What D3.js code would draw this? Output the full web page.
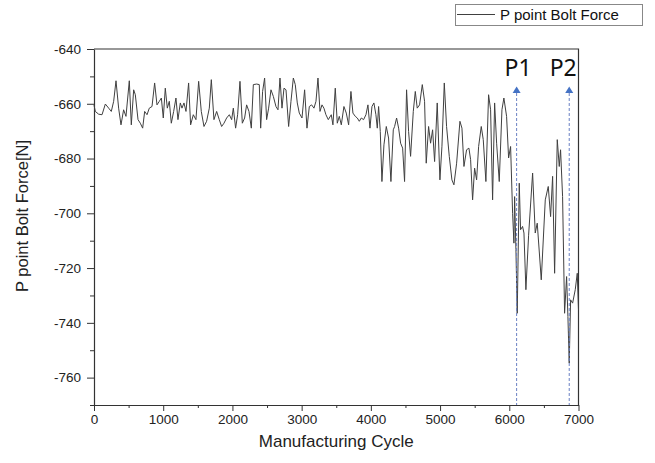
<!DOCTYPE html>
<html>
<head>
<meta charset="utf-8">
<script src="https://cdn.jsdelivr.net/npm/d3@7"></script>
<style>
  html, body { margin: 0; padding: 0; background: #fff; }
  svg { display: block; }
  .axis text { font-family: "Liberation Sans", Arial, sans-serif; font-size: 13.5px; fill: #222; }
  .axis path, .axis line { stroke: #333; }
</style>
</head>
<body>
<svg id="chart" width="655" height="463"></svg>
<script>
// Bolt force at point P, sampled over manufacturing cycles
const cycles = [
  0, 19, 67, 116, 164, 212, 250, 284, 318, 356, 390, 428, 462, 510, 539, 573, 597, 636, 669, 703,
  732, 766, 799, 838, 876, 910, 944, 973, 1001, 1030, 1059, 1088, 1117, 1151, 1184, 1213, 1247, 1271, 1300, 1329,
  1367, 1396, 1435, 1473, 1512, 1550, 1589, 1627, 1666, 1695, 1733, 1772, 1810, 1844, 1878, 1916, 1955, 1989, 2013, 2046,
  2075, 2109, 2143, 2176, 2205, 2239, 2273, 2302, 2350, 2388, 2408, 2436, 2465, 2494, 2523, 2557, 2591, 2629, 2658, 2687,
  2716, 2745, 2774, 2812, 2846, 2880, 2908, 2937, 2966, 3005, 3043, 3077, 3111, 3144, 3178, 3207, 3236, 3265, 3294, 3322,
  3351, 3385, 3428, 3452, 3486, 3515, 3544, 3573, 3611, 3645, 3679, 3712, 3741, 3775, 3804, 3833, 3862, 3895, 3929, 3958,
  3987, 4016, 4044, 4073, 4093, 4112, 4136, 4160, 4189, 4223, 4256, 4290, 4324, 4343, 4372, 4401, 4430, 4459, 4487, 4516,
  4545, 4574, 4613, 4642, 4670, 4704, 4743, 4776, 4800, 4834, 4863, 4892, 4921, 4959, 4998, 5027, 5061, 5094, 5133, 5171,
  5200, 5239, 5287, 5316, 5345, 5383, 5417, 5441, 5470, 5499, 5528, 5557, 5595, 5624, 5662, 5701, 5730, 5759, 5788, 5817,
  5855, 5894, 5922, 5961, 5990, 6019, 6048, 6067, 6077, 6096, 6115, 6144, 6163, 6192, 6212, 6240, 6279, 6337, 6375, 6404,
  6462, 6520, 6563, 6597, 6626, 6655, 6693, 6722, 6741, 6770, 6799, 6828, 6847, 6866, 6886, 6915, 6953, 6982, 7000
];
const boltForce = [
  -660.5, -662.8, -663.8, -664.0, -660.1, -661.6, -662.8, -659.1, -651.6, -661.6, -667.7, -662.2, -664.6, -651.6, -667.7, -654.9, -656.7, -665.8, -667.1, -668.9,
  -662.8, -664.0, -661.6, -661.0, -652.4, -660.4, -659.1, -657.9, -665.2, -654.3, -661.6, -659.1, -667.1, -662.8, -657.9, -665.8, -659.7, -661.6, -659.7, -662.8,
  -652.4, -667.7, -664.0, -665.8, -651.8, -662.8, -668.3, -666.4, -661.6, -651.2, -665.8, -662.8, -665.8, -668.3, -667.1, -665.2, -664.0, -665.8, -661.6, -668.9,
  -664.0, -651.8, -667.1, -665.2, -660.4, -662.8, -668.9, -653.0, -652.8, -653.0, -668.9, -655.5, -650.6, -665.8, -661.6, -654.9, -657.3, -661.0, -662.2, -650.6,
  -661.6, -654.3, -654.9, -668.3, -659.1, -650.6, -653.0, -659.7, -663.4, -665.2, -654.9, -668.9, -661.0, -660.4, -661.6, -659.1, -650.6, -662.8, -660.4, -661.6,
  -664.0, -665.8, -664.0, -667.7, -654.3, -667.1, -664.6, -667.7, -661.0, -663.4, -667.7, -655.5, -663.4, -664.6, -665.2, -666.4, -665.2, -665.8, -664.0, -660.4,
  -668.9, -661.0, -659.7, -664.0, -668.9, -661.0, -670.1, -688.4, -675.0, -668.3, -672.5, -688.4, -669.5, -668.3, -665.2, -668.9, -674.4, -676.2, -688.4, -654.9,
  -670.1, -679.2, -662.8, -655.5, -661.6, -660.4, -653.0, -659.1, -681.7, -668.3, -674.4, -669.5, -681.1, -659.7, -687.8, -675.5, -652.4, -668.3, -679.2, -687.8,
  -689.6, -681.7, -666.4, -668.9, -682.9, -676.8, -676.2, -680.4, -695.1, -683.5, -687.8, -675.6, -668.3, -673.1, -688.4, -656.7, -662.2, -695.1, -659.7, -674.4,
  -688.4, -662.2, -657.9, -664.6, -679.8, -675.6, -700.0, -710.9, -693.9, -713.3, -736.5, -689.0, -706.0, -704.8, -707.2, -727.9, -708.0, -685.3, -707.2, -703.6,
  -724.3, -695.1, -690.2, -701.2, -686.5, -721.9, -673.1, -682.9, -676.8, -693.9, -736.5, -723.1, -737.7, -754.7, -731.6, -732.8, -727.9, -721.9, -735.3
];

// Axis ticks
const xTicks = [0, 1000, 2000, 3000, 4000, 5000, 6000, 7000];
const xMinorTicks = [500, 1500, 2500, 3500, 4500, 5500, 6500];
const yTicks = [-760, -740, -720, -700, -680, -660, -640];
const yMinorTicks = [-770, -750, -730, -710, -690, -670, -650];

// Marked cycles
const markerNames = ["P1", "P2"];
const markerCycles = [6106, 6866];

const seriesName = "P point Bolt Force";
const xTitle = "Manufacturing Cycle";
const yTitle = "P point Bolt Force[N]";

const svg = d3.select("#chart");
const plotLeft = 94, plotRight = 578.5, plotTop = 49, plotBottom = 405;

const x = d3.scaleLinear().domain([0, 7000]).range([plotLeft, plotRight]);
const y = d3.scaleLinear().domain([-770, -640]).range([plotBottom, plotTop]);

const font = '"Liberation Sans", Arial, sans-serif';
const plain = d => String(d);   // keep an ASCII hyphen for negatives

// frame (top and right edges)
svg.append("path")
  .attr("d", `M${plotLeft},${plotTop}H${plotRight}V${plotBottom}`)
  .attr("fill", "none").attr("stroke", "#333").attr("stroke-width", 1.2);

// minor ticks
svg.append("g").attr("class", "axis")
  .attr("transform", `translate(0,${plotBottom})`)
  .call(d3.axisBottom(x).tickValues(xMinorTicks).tickSize(3).tickFormat(""))
  .call(g => g.select(".domain").remove());
svg.append("g").attr("class", "axis")
  .attr("transform", `translate(${plotLeft},0)`)
  .call(d3.axisLeft(y).tickValues(yMinorTicks).tickSize(4).tickFormat(""))
  .call(g => g.select(".domain").remove());

// major axes
svg.append("g").attr("class", "axis")
  .attr("transform", `translate(0,${plotBottom})`)
  .call(d3.axisBottom(x).tickValues(xTicks).tickSize(6).tickPadding(3).tickSizeOuter(0).tickFormat(plain))
  .call(g => g.select(".domain").attr("stroke-width", 1.2));
svg.append("g").attr("class", "axis")
  .attr("transform", `translate(${plotLeft},0)`)
  .call(d3.axisLeft(y).tickValues(yTicks).tickSize(7).tickPadding(6).tickSizeOuter(0).tickFormat(plain))
  .call(g => g.select(".domain").attr("stroke-width", 1.2));

// data line
const data = cycles.map((c, i) => ({ c, v: boltForce[i] }));
svg.append("path")
  .datum(data)
  .attr("fill", "none")
  .attr("stroke", "#404040")
  .attr("stroke-width", 1)
  .attr("stroke-linejoin", "round")
  .attr("d", d3.line().x(d => x(d.c)).y(d => y(d.v)));

// P1 / P2 markers
const markers = markerNames.map((n, i) => ({ n, c: markerCycles[i] }));
const mg = svg.append("g").selectAll("g").data(markers).join("g");
mg.append("line")
  .attr("x1", d => x(d.c)).attr("x2", d => x(d.c))
  .attr("y1", 93).attr("y2", plotBottom)
  .attr("stroke", "#6a80c4").attr("stroke-width", 1)
  .attr("stroke-dasharray", "3,2");
mg.append("path")
  .attr("d", d => `M${x(d.c)},86.5L${x(d.c) + 4},93L${x(d.c) - 4},93Z`)
  .attr("fill", "#4472c4");
mg.append("text")
  .attr("x", (d, i) => x(d.c) + (i === 0 ? 1.5 : -6))
  .attr("y", 76)
  .attr("text-anchor", "middle")
  .attr("font-family", '"Noto Sans", "Open Sans", sans-serif')
  .attr("font-size", 23)
  .attr("fill", "#111")
  .text(d => d.n);

// axis titles
svg.append("text")
  .attr("x", (plotLeft + plotRight) / 2).attr("y", 447)
  .attr("text-anchor", "middle")
  .attr("font-family", font).attr("font-size", 17).attr("fill", "#222")
  .text(xTitle);
svg.append("text")
  .attr("transform", "translate(28,216) rotate(-90)")
  .attr("text-anchor", "middle")
  .attr("font-family", font).attr("font-size", 16.5).attr("fill", "#222")
  .text(yTitle);

// legend
const lg = svg.append("g");
lg.append("rect")
  .attr("x", 455.5).attr("y", 4.5).attr("width", 187).attr("height", 21)
  .attr("fill", "#fff").attr("stroke", "#888");
lg.append("line")
  .attr("x1", 457).attr("x2", 495).attr("y1", 14.5).attr("y2", 14.5)
  .attr("stroke", "#404040");
lg.append("text")
  .attr("x", 500).attr("y", 20)
  .attr("font-family", font).attr("font-size", 15).attr("fill", "#111")
  .text(seriesName);
</script>
</body>
</html>
